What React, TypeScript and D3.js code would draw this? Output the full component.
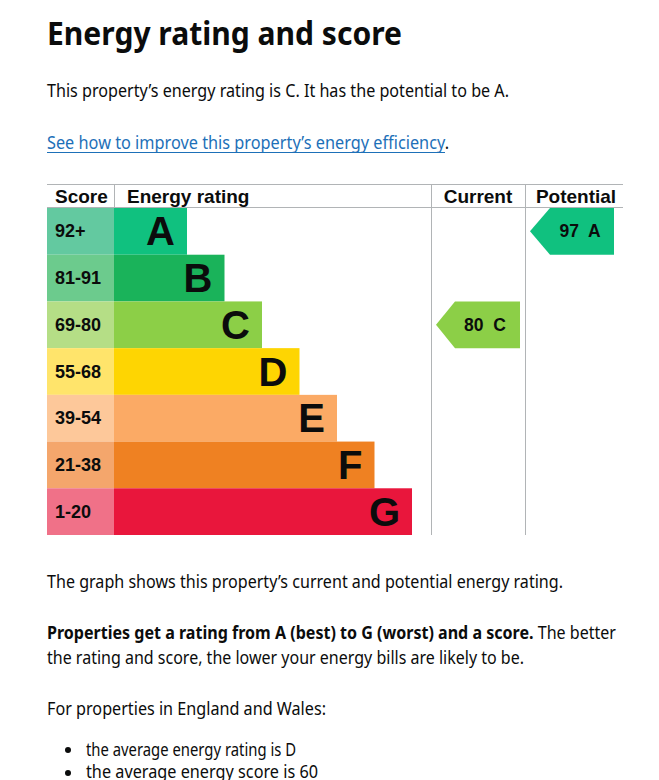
import React from "react";
import * as d3 from "d3";

const bandLetters = ["A", "B", "C", "D", "E", "F", "G"];
const bandRanges = ["92+", "81-91", "69-80", "55-68", "39-54", "21-38", "1-20"];
const bandMinScores = [92, 81, 69, 55, 39, 21, 1];
const barColors = ["#10c17f", "#1ab35a", "#8ccf47", "#fed502", "#fbaa65", "#ef8122", "#e9163c"];
const scoreColors = ["#63c9a0", "#6ccb8d", "#b5de86", "#ffe46b", "#fdc89a", "#f4a66c", "#f07188"];
const currentScore = 80;
const potentialScore = 97;

const W = 659;
const H = 780;
const bodyFont = "'Noto Sans', Lato, sans-serif";
const chartFont = "'Liberation Sans', Arial, sans-serif";

function bandIndex(score: number) {
  return bandMinScores.findIndex((m) => score >= m);
}

export default function App() {
  const y = d3.scaleBand<string>().domain(bandLetters).range([208, 535]).paddingInner(0);
  const barEnd = d3.scaleLinear().domain([0, 6]).range([187, 412]);
  const left = 47;
  const scoreRight = 114;
  const col1 = 431;
  const col2 = 525;
  const right = 623;
  const bh = y.bandwidth();

  const arrow = (x0: number, x1: number, yTop: number, tip: number) => {
    const p = d3.path();
    p.moveTo(x0, yTop + bh / 2);
    p.lineTo(x0 + tip, yTop);
    p.lineTo(x1, yTop);
    p.lineTo(x1, yTop + bh);
    p.lineTo(x0 + tip, yTop + bh);
    p.closePath();
    return p.toString();
  };

  const ci = bandIndex(currentScore);
  const pi = bandIndex(potentialScore);
  const cy = y(bandLetters[ci])!;
  const py = y(bandLetters[pi])!;

  return (
    <svg width={W} height={H} style={{ position: "absolute", left: 0, top: 0, background: "#fff" }}>
      <text x={47} y={45} fontFamily={bodyFont} fontWeight={700} fontSize={32} fill="#0b0c0c" textLength={355} lengthAdjust="spacingAndGlyphs">
        Energy rating and score
      </text>
      <text x={47} y={97} fontFamily={bodyFont} fontSize={18.5} fill="#0b0c0c" textLength={462} lengthAdjust="spacingAndGlyphs">
        This property’s energy rating is C. It has the potential to be A.
      </text>
      <text x={47} y={149} fontFamily={bodyFont} fontSize={18.5} fill="#0b0c0c" textLength={402} lengthAdjust="spacingAndGlyphs">
        <tspan fill="#1d70b8">See how to improve this property’s energy efficiency</tspan>
        <tspan>.</tspan>
      </text>
      <line x1={47} x2={445} y1={152.5} y2={152.5} stroke="#1d70b8" strokeWidth={1} />

      {/* chart frame */}
      <line x1={left} x2={right} y1={184.5} y2={184.5} stroke="#b1b4b6" />
      <line x1={left} x2={right} y1={207.5} y2={207.5} stroke="#b1b4b6" />
      <line x1={scoreRight + 0.5} x2={scoreRight + 0.5} y1={184} y2={208} stroke="#b1b4b6" />
      <line x1={col1 + 0.5} x2={col1 + 0.5} y1={184} y2={535} stroke="#b1b4b6" />
      <line x1={col2 + 0.5} x2={col2 + 0.5} y1={184} y2={535} stroke="#b1b4b6" />

      <g fontFamily={chartFont} fontWeight={700} fill="#0b0c0c">
        <text x={55} y={203} fontSize={19}>Score</text>
        <text x={127} y={203} fontSize={19}>Energy rating</text>
        <text x={478} y={203} fontSize={19} textAnchor="middle">Current</text>
        <text x={576} y={203} fontSize={19} textAnchor="middle">Potential</text>
      </g>

      {bandLetters.map((l, i) => {
        const yy = y(l)!;
        return (
          <g key={l}>
            <rect x={left} y={yy} width={scoreRight - left} height={bh} fill={scoreColors[i]} />
            <rect x={scoreRight} y={yy} width={barEnd(i) - scoreRight} height={bh} fill={barColors[i]} />
            <text x={55} y={yy + bh / 2 + 6} fontFamily={chartFont} fontWeight={700} fontSize={18} fill="#0b0c0c">
              {bandRanges[i]}
            </text>
            <text x={barEnd(i) - 12} y={yy + bh / 2 + 14} fontFamily={chartFont} fontWeight={700} fontSize={40} fill="#0b0c0c" textAnchor="end">
              {l}
            </text>
          </g>
        );
      })}

      <path d={arrow(436, 520, cy, 19)} fill={barColors[ci]} />
      <text x={485} y={cy + bh / 2 + 6} fontFamily={chartFont} fontWeight={700} fontSize={17.5} fill="#0b0c0c" textAnchor="middle" style={{ whiteSpace: "pre" }}>
        {`${currentScore}  ${bandLetters[ci]}`}
      </text>
      <path d={arrow(530, 614, py, 20)} fill={barColors[pi]} />
      <text x={580} y={py + bh / 2 + 6} fontFamily={chartFont} fontWeight={700} fontSize={17.5} fill="#0b0c0c" textAnchor="middle" style={{ whiteSpace: "pre" }}>
        {`${potentialScore}  ${bandLetters[pi]}`}
      </text>

      <g fontFamily={bodyFont} fontSize={18.5} fill="#0b0c0c">
        <text x={47} y={588} textLength={516} lengthAdjust="spacingAndGlyphs">
          The graph shows this property’s current and potential energy rating.
        </text>
        <text x={47} y={639} textLength={569} lengthAdjust="spacingAndGlyphs">
          <tspan fontWeight={700}>Properties get a rating from A (best) to G (worst) and a score.</tspan>
          <tspan> The better</tspan>
        </text>
        <text x={47} y={664} textLength={477} lengthAdjust="spacingAndGlyphs">
          the rating and score, the lower your energy bills are likely to be.
        </text>
        <text x={47} y={715} textLength={279} lengthAdjust="spacingAndGlyphs">
          For properties in England and Wales:
        </text>
        <circle cx={68} cy={750} r={3} fill="#0b0c0c" />
        <text x={86} y={756} textLength={210} lengthAdjust="spacingAndGlyphs">the average energy rating is D</text>
        <circle cx={68} cy={773} r={3} fill="#0b0c0c" />
        <text x={86} y={778} textLength={232} lengthAdjust="spacingAndGlyphs">the average energy score is 60</text>
      </g>
    </svg>
  );
}
